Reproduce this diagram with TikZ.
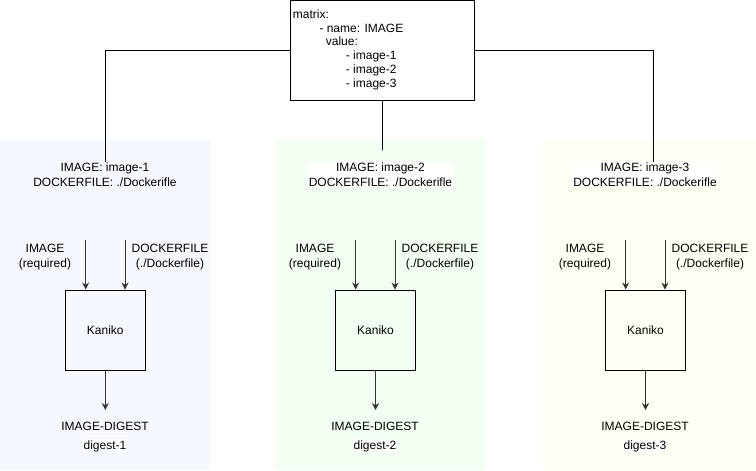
\documentclass[tikz,border=0pt]{standalone}
\usepackage{fontspec}
\setmainfont{Liberation Sans}
\usetikzlibrary{arrows.meta}
\definecolor{panelblue}{RGB}{245,249,255}
\definecolor{panelgreen}{RGB}{243,255,243}
\definecolor{panelyellow}{RGB}{255,255,246}
\definecolor{feedgray}{RGB}{51,51,51}

\begin{document}
\begin{tikzpicture}[x=1pt, y=-1pt,
    txt/.style={font=\fontsize{12}{14.6}\selectfont, align=center, inner sep=1pt},
    kbox/.style={draw, line width=0.9pt, minimum width=80pt, minimum height=80pt,
                 font=\fontsize{12}{14.6}\selectfont},
    feed/.style={draw=feedgray, line width=0.9pt, -{Stealth[length=7pt, width=7pt]}},
    wire/.style={draw, line width=0.9pt}]
                \useasboundingbox (0,0) rectangle (756,471);

                % Panels
                \fill[panelblue] (0,140) rectangle (210,470);
                \fill[panelgreen] (276,140) rectangle (485,470);
                \fill[panelyellow] (543,140) rectangle (756,470);

                % Matrix box (base of a multi-line node is its last line)
                \node[draw, line width=0.9pt, minimum width=184pt, minimum height=99.5pt] (mtx) at (382.9,50.3) {};
                \node[txt, align=left, anchor=base west, inner sep=0pt,
                      font=\fontsize{12}{13.85}\selectfont] (mtxtext) at (292.7,87.5)
                    {matrix:\\
                     \hspace*{26.6pt}- name: IMAGE\\
                     \hspace*{33pt}value:\\
                     \hspace*{53pt}- image-1\\
                     \hspace*{53pt}- image-2\\
                     \hspace*{53pt}- image-3};

                % Panel 1
                \node[txt, anchor=base] (lbl1) at (105,186.3) {IMAGE: image-1\\DOCKERFILE: ./Dockerifle};
                \node[txt, anchor=base] (img1) at (45,267) {IMAGE\\(required)};
                \node[txt, anchor=base] (dkf1) at (170,267) {DOCKERFILE\\(./Dockerfile)};
                \node[kbox] (kan1) at (105.3,330) {Kaniko};
                \coordinate (in1a) at (85.7,240);
                \coordinate (in1b) at (125,240);
                \coordinate (out1) at (105.3,410);
                \draw[feed] (in1a) -- (in1a |- kan1.north);
                \draw[feed] (in1b) -- (in1b |- kan1.north);
                \draw[feed] (kan1.south) -- (out1);
                \node[txt, anchor=base] (dig1) at (105,430) {IMAGE-DIGEST};
                \node[txt, anchor=base, fill=white] (val1) at (105,449) {digest-1};

                % Panel 2
                \node[txt, anchor=base, fill=white, inner xsep=2pt] (lbl2) at (380.5,186.3) {IMAGE: image-2\\DOCKERFILE: ./Dockerifle};
                \node[txt, anchor=base] (img2) at (315,267) {IMAGE\\(required)};
                \node[txt, anchor=base] (dkf2) at (440,267) {DOCKERFILE\\(./Dockerfile)};
                \node[kbox] (kan2) at (375.5,330) {Kaniko};
                \coordinate (in2a) at (355.7,240);
                \coordinate (in2b) at (395,240);
                \coordinate (out2) at (375.5,410);
                \draw[feed] (in2a) -- (in2a |- kan2.north);
                \draw[feed] (in2b) -- (in2b |- kan2.north);
                \draw[feed] (kan2.south) -- (out2);
                \node[txt, anchor=base] (dig2) at (375,430) {IMAGE-DIGEST};
                \node[txt, anchor=base, fill=white] (val2) at (375,449) {digest-2};

                % Panel 3
                \node[txt, anchor=base, fill=white, inner xsep=2pt] (lbl3) at (645,186.3) {IMAGE: image-3\\DOCKERFILE: ./Dockerifle};
                \node[txt, anchor=base] (img3) at (585,267) {IMAGE\\(required)};
                \node[txt, anchor=base] (dkf3) at (710,267) {DOCKERFILE\\(./Dockerfile)};
                \node[kbox] (kan3) at (645.5,330) {Kaniko};
                \coordinate (in3a) at (625.7,240);
                \coordinate (in3b) at (665,240);
                \coordinate (out3) at (645.5,410);
                \draw[feed] (in3a) -- (in3a |- kan3.north);
                \draw[feed] (in3b) -- (in3b |- kan3.north);
                \draw[feed] (kan3.south) -- (out3);
                \node[txt, anchor=base] (dig3) at (645,430) {IMAGE-DIGEST};
                \node[txt, anchor=base, fill=white] (val3) at (645,449) {digest-3};

                % Matrix fan-out
                \coordinate (mid2) at (383,150);
                \draw[wire] (mtx.west) -| (lbl1.north);
                \draw[wire] (mtx.south) -- (mtx.south |- mid2);
                \draw[wire] (mtx.east) -| ([xshift=8pt]lbl3.north);
            \end{tikzpicture}
\end{document}
